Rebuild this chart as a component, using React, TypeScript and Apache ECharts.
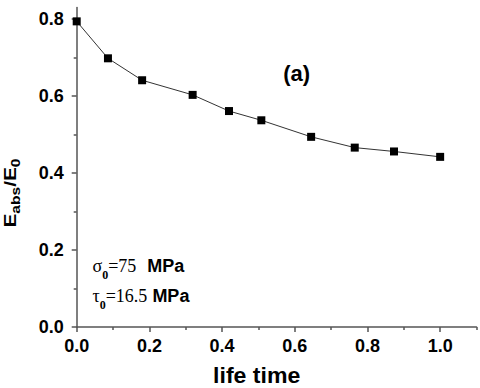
import React, { useEffect, useRef } from "react";
import * as echarts from "echarts";

const lifeTime = [0, 0.086, 0.18, 0.319, 0.419, 0.508, 0.645, 0.765, 0.873, 1.0];
const eRatio = [0.794, 0.698, 0.641, 0.603, 0.561, 0.537, 0.494, 0.466, 0.456, 0.442];
const xMajorTicks = [0, 0.2, 0.4, 0.6, 0.8, 1.0];
const xMinorTicks = [0.1, 0.3, 0.5, 0.7, 0.9, 1.1];
const yMajorTicks = [0, 0.2, 0.4, 0.6, 0.8];
const yMinorTicks = [0.1, 0.3, 0.5, 0.7];

const SANS = "'Liberation Sans', Arial, sans-serif";
const SERIF = "'Liberation Serif', 'Times New Roman', serif";
const AXIS_COLOR = "#555";

export default function App() {
  const ref = useRef<HTMLDivElement>(null);
  useEffect(() => {
    if (!ref.current) return;
    const chart = echarts.init(ref.current, null, { renderer: "svg" });
    const labelStyle = { fontSize: 18, fontWeight: "bold" as const, color: "#000", fontFamily: SANS };
    const mk = (axisLine: boolean, ticks: number[], len: number, labels: boolean, min: number, max: number, position: string, margin: number) => ({
      type: "value",
      min,
      max,
      interval: 0.1,
      position,
      axisLine: { show: axisLine, onZero: false, lineStyle: { color: AXIS_COLOR, width: 1.5 } },
      axisTick: { show: true, customValues: ticks, length: len, lineStyle: { color: AXIS_COLOR, width: 1.5 } },
      axisLabel: labels
        ? { show: true, customValues: ticks, formatter: (v: number) => v.toFixed(1), margin, ...labelStyle }
        : { show: false },
      splitLine: { show: false },
    });
    chart.setOption({
      animation: false,
      backgroundColor: "#fff",
      grid: { left: 76.7, right: 3.5, top: 7.5, bottom: 61, containLabel: false, outerBoundsMode: "none" },
      xAxis: [
        mk(true, xMinorTicks, 3, false, 0, 1.1, "bottom", 10),
        mk(false, xMajorTicks, 5, true, 0, 1.1, "bottom", 10),
      ],
      yAxis: [
        mk(true, yMinorTicks, 3, false, 0, 0.83, "left", 13),
        mk(false, yMajorTicks, 5, true, 0, 0.83, "left", 13),
      ],
      series: [
        {
          type: "line",
          xAxisIndex: 0,
          yAxisIndex: 0,
          data: lifeTime.map((x, i) => [x, eRatio[i]]),
          symbol: "rect",
          symbolSize: 8,
          itemStyle: { color: "#000" },
          lineStyle: { color: "#333", width: 1 },
        },
      ],
      graphic: [
        {
          type: "text",
          x: 296.7,
          y: 73.3,
          style: { text: "(a)", fontSize: 22, fontWeight: "bold", fontFamily: SANS, fill: "#000", align: "center", verticalAlign: "middle" },
        },
        {
          type: "text",
          x: 256.7,
          y: 376,
          scaleX: 1.05,
          style: { text: "life time", fontSize: 22, fontWeight: "bold", fontFamily: SANS, fill: "#000", align: "center", verticalAlign: "middle" },
        },
        {
          type: "text",
          x: 2,
          y: 193,
          rotation: Math.PI / 2,
          scaleX: 1.3,
          style: {
            text: "{m|E}{s|abs}{m|/E}{s|0}",
            align: "center",
            verticalAlign: "top",
            fill: "#000",
            rich: {
              m: { fontSize: 16, fontWeight: "bold", fontFamily: SANS, fill: "#000", verticalAlign: "top" },
              s: { fontSize: 12, fontWeight: "bold", fontFamily: SANS, fill: "#000", verticalAlign: "top", padding: [8, 0, 0, 0] },
            },
          },
        },
        {
          type: "text",
          x: 92.5,
          y: 256.7,
          style: {
            text: "{m|σ}{s|0}{m|=75}{u|MPa}",
            align: "left",
            verticalAlign: "top",
            fill: "#000",
            rich: {
              m: { fontSize: 18, fontFamily: SERIF, fill: "#000", verticalAlign: "top" },
              s: { fontSize: 12, fontWeight: "bold", fontFamily: SERIF, fill: "#000", verticalAlign: "top", padding: [12, 0, 0, 0] },
              u: { fontSize: 18, fontWeight: "bold", fontFamily: SANS, fill: "#000", verticalAlign: "top", padding: [0, 0, 0, 11] },
            },
          },
        },
        {
          type: "text",
          x: 92.5,
          y: 286.7,
          style: {
            text: "{m|τ}{s|0}{m|=16.5}{u|MPa}",
            align: "left",
            verticalAlign: "top",
            fill: "#000",
            rich: {
              m: { fontSize: 18, fontFamily: SERIF, fill: "#000", verticalAlign: "top" },
              s: { fontSize: 12, fontWeight: "bold", fontFamily: SERIF, fill: "#000", verticalAlign: "top", padding: [12, 0, 0, 0] },
              u: { fontSize: 18, fontWeight: "bold", fontFamily: SANS, fill: "#000", verticalAlign: "top", padding: [0, 0, 0, 5] },
            },
          },
        },
      ],
    });
    return () => chart.dispose();
  }, []);
  return <div ref={ref} style={{ position: "fixed", left: 0, top: 0, width: 480, height: 388 }} />;
}
